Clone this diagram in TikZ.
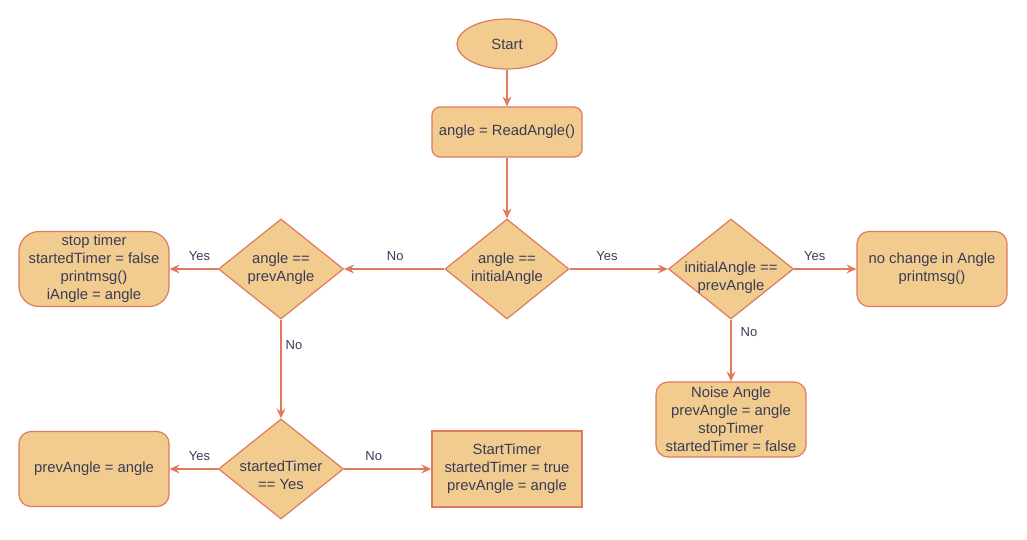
\documentclass[tikz,border=0pt]{standalone}
\usepackage{fontspec}
\setmainfont{Liberation Sans}
\usetikzlibrary{shapes.geometric,arrows.meta}
\definecolor{fillc}{HTML}{F2CC8F}
\definecolor{strokec}{HTML}{E07A5F}
\definecolor{textc}{HTML}{393C56}
\begin{document}
\begin{tikzpicture}[x=1pt,y=-1pt,
  base/.style={draw=strokec, fill=fillc, line width=1.2pt, text=textc,
    font=\fontsize{14.8}{18}\selectfont, align=center, inner sep=0pt},
  proc/.style={base, rectangle, rounded corners=12pt, minimum width=150pt, minimum height=75pt},
  sqproc/.style={base, rectangle, line width=1.5pt, minimum width=150pt, minimum height=76pt},
  term/.style={base, ellipse, minimum width=100pt, minimum height=50pt},
  dec/.style={base, diamond, minimum width=125pt, minimum height=100pt},
  dtext/.style={text=textc, font=\fontsize{14.8}{18}\selectfont, align=center, inner sep=0pt},
  arr/.style={draw=strokec, line width=1.3pt, -{Stealth[length=10pt,width=9pt,inset=3.5pt]}},
  lbl/.style={text=textc, font=\fontsize{13}{15}\selectfont, inner sep=0pt}
]
\useasboundingbox (0,0) rectangle (1027,539);

\node[term] (start) at (507,44) {Start};
\node[proc, rounded corners=8pt, minimum height=50pt] (read) at (507,132) {angle = ReadAngle()};
\node[dec, minimum width=124pt, label={[dtext]center:{angle ==\\initialAngle}}] (d1) at (507,269) {};
\node[dec, label={[dtext, yshift=-9pt]center:{initialAngle ==\\prevAngle}}] (d3) at (731,269) {};
\node[proc] (nochange) at (932,269) {no change in Angle\\printmsg()};
\node[proc] (noise) at (731,419.5) {Noise Angle\\prevAngle = angle\\stopTimer\\startedTimer = false};
\node[dec, label={[dtext]center:{angle ==\\prevAngle}}] (d2) at (281,269) {};
\node[proc, rounded corners=20pt] (stop) at (94,269) {stop timer\\startedTimer = false\\printmsg()\\iAngle = angle};
\node[dec, label={[dtext, yshift=-6pt]center:{startedTimer\\== Yes}}] (d4) at (281,469) {};
\node[proc] (prev) at (94,469) {prevAngle = angle};
\node[sqproc] (starttimer) at (507,469) {StartTimer\\startedTimer = true\\prevAngle = angle};

\draw[arr] (start) -- (read);
\draw[arr] (read) -- (d1);
\draw[arr] (d1.west) -- node[lbl, pos=0.49, yshift=13pt]{No} (d2.east);
\draw[arr] (d1.east) -- node[lbl, pos=0.38, yshift=13pt]{Yes} (d3.west);
\draw[arr] (d3.east) -- node[lbl, pos=0.33, yshift=13pt]{Yes} (nochange.west);
\draw[arr] (d3.south) -- node[lbl, pos=0.2, xshift=18pt]{No} (noise.north);
\draw[arr] (d2.west) -- node[lbl, pos=0.38, yshift=13pt]{Yes} (stop.east);
\draw[arr] (d2.south) -- node[lbl, pos=0.26, xshift=13pt]{No} (d4.north);
\draw[arr] (d4.west) -- node[lbl, pos=0.38, yshift=13pt]{Yes} (prev.east);
\draw[arr] (d4.east) -- node[lbl, pos=0.34, yshift=13pt]{No} (starttimer.west);
\end{tikzpicture}
\end{document}
